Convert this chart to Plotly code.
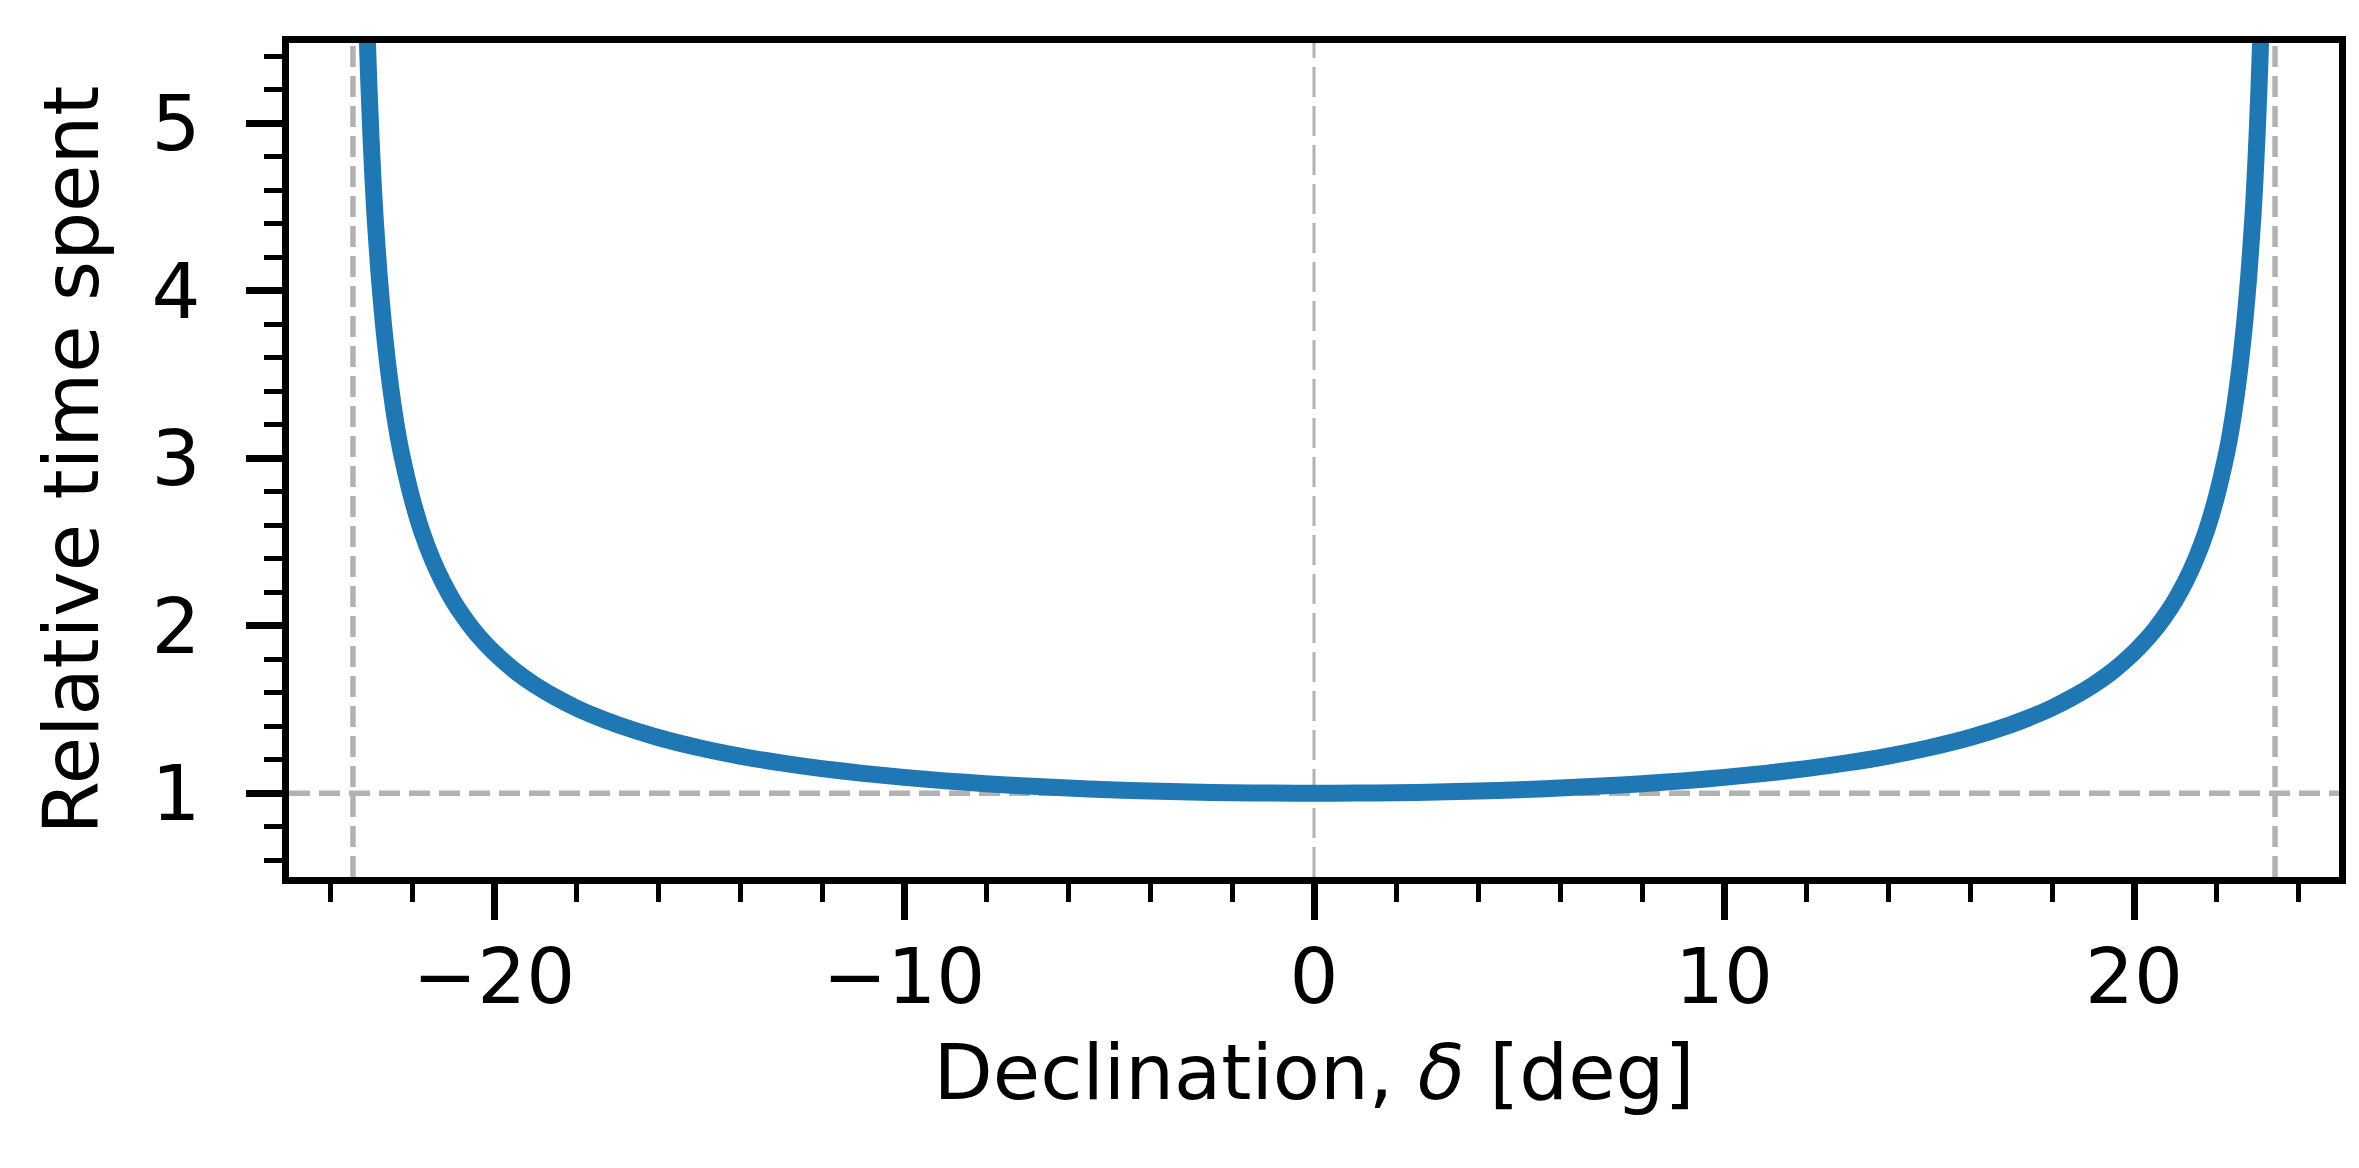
import plotly.graph_objects as go

# Declination (deg) and relative time spent
declination = [
    -23.2, -23.1, -23.05, -23.0, -22.95, -22.9, -22.8, -22.7, -22.6, -22.45,
    -22.3, -22.15, -22.0, -21.75, -21.5, -21.25, -21.0, -20.75, -20.5, -20.25,
    -20.0, -19.5, -19.0, -18.5, -18.0, -17.5, -17.0, -16.0, -15.0, -14.0,
    -13.0, -12.0, -11.0, -10.0, -9.0, -8.0, -7.0, -6.0, -5.0, -4.0,
    -3.0, -2.0, -1.0, 0.0,
    1.0, 2.0, 3.0, 4.0, 5.0, 6.0, 7.0, 8.0, 9.0, 10.0,
    11.0, 12.0, 13.0, 14.0, 15.0, 16.0, 17.0, 17.5, 18.0, 18.5,
    19.0, 19.5, 20.0, 20.25, 20.5, 20.75, 21.0, 21.25, 21.5, 21.75,
    22.0, 22.15, 22.3, 22.45, 22.6, 22.7, 22.8, 22.9, 22.95, 23.0,
    23.05, 23.1, 23.2,
]
relative_time = [
    6.64, 5.59, 5.22, 4.92, 4.66, 4.44, 4.09, 3.81, 3.58, 3.30,
    3.08, 2.91, 2.76, 2.555, 2.394, 2.262, 2.151, 2.057, 1.975, 1.904,
    1.841, 1.733, 1.646, 1.573, 1.510, 1.457, 1.410, 1.333, 1.272, 1.222,
    1.181, 1.147, 1.119, 1.095, 1.074, 1.057, 1.043, 1.031, 1.021, 1.013,
    1.007, 1.003, 1.001, 1.000,
    1.001, 1.003, 1.007, 1.013, 1.021, 1.031, 1.043, 1.057, 1.074, 1.095,
    1.119, 1.147, 1.181, 1.222, 1.272, 1.333, 1.410, 1.457, 1.510, 1.573,
    1.646, 1.733, 1.841, 1.904, 1.975, 2.057, 2.151, 2.262, 2.394, 2.555,
    2.76, 2.91, 3.08, 3.30, 3.58, 3.81, 4.09, 4.44, 4.66, 4.92,
    5.22, 5.59, 6.64,
]

# reference lines: tropics (obliquity), equator, and unit level
tropic_lines = [-23.44, 23.44]
equator = 0.0
unit_level = 1.0

FONT = "DejaVu Sans"
FONT_SIZE = 77
GREY = "rgb(178,178,178)"

fig = go.Figure(go.Scatter(
    x=declination,
    y=relative_time,
    mode="lines",
    line=dict(color="#1f77b4", width=17, shape="spline", smoothing=0.6),
    showlegend=False,
))

for x0 in tropic_lines:
    fig.add_shape(type="line", xref="x", yref="paper", x0=x0, x1=x0, y0=0, y1=1,
                  line=dict(color=GREY, width=5.5, dash="21px,9px"), layer="below")
fig.add_shape(type="line", xref="x", yref="paper", x0=equator, x1=equator, y0=0, y1=1,
              line=dict(color=GREY, width=3, dash="30px,9px"), layer="below")
fig.add_shape(type="line", xref="paper", yref="y", x0=0, x1=1, y0=unit_level, y1=unit_level,
              line=dict(color=GREY, width=5.5, dash="21px,9px"), layer="below")

axis_common = dict(
    showline=True,
    linecolor="black",
    linewidth=7,
    mirror=True,
    showgrid=False,
    zeroline=False,
    ticks="outside",
    ticklen=36,
    tickwidth=7,
    tickcolor="black",
    tickfont=dict(family=FONT, size=FONT_SIZE, color="black"),
)

fig.update_layout(
    width=2359,
    height=1168,
    plot_bgcolor="white",
    paper_bgcolor="white",
    margin=dict(l=281, r=28, t=35, b=299),
    font=dict(family=FONT, color="black"),
    xaxis=dict(
        **axis_common,
        range=[-25, 25],
        tick0=0,
        dtick=10,
        minor=dict(ticks="outside", ticklen=18, tickwidth=5, tickcolor="black", dtick=2, tick0=0),
        ticklabelstandoff=-9,
        title=dict(text="Declination, <i>δ</i> [deg]", font=dict(family=FONT, size=FONT_SIZE), standoff=27),
    ),
    yaxis=dict(
        **axis_common,
        range=[0.5, 5.48],
        tick0=0,
        dtick=1,
        minor=dict(ticks="outside", ticklen=18, tickwidth=5, tickcolor="black", dtick=0.2, tick0=0),
        ticklabelstandoff=30,
        title=dict(text="Relative time spent", font=dict(family=FONT, size=FONT_SIZE), standoff=30),
    ),
)

fig.write_html("out.html")
